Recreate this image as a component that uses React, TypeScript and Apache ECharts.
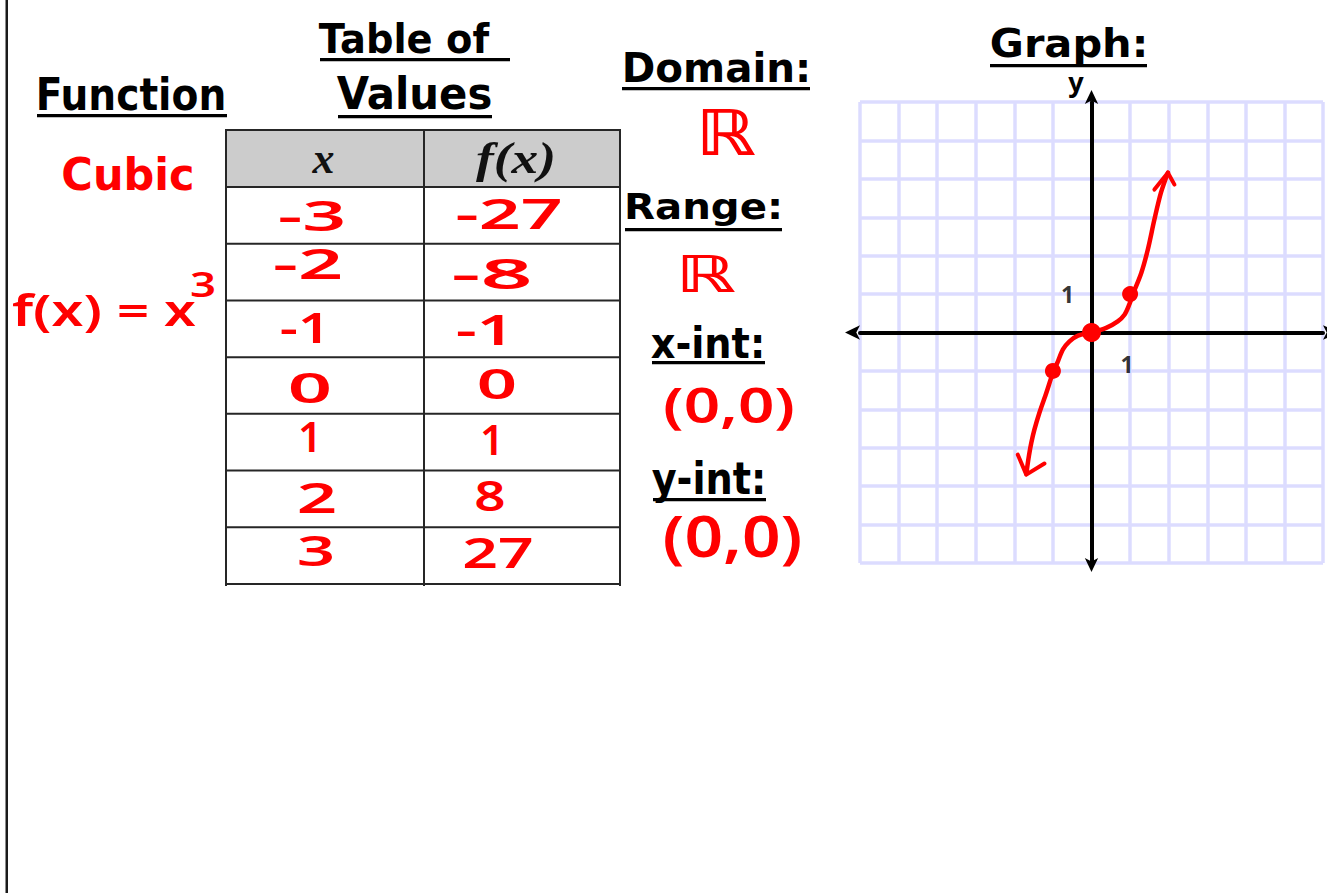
import React, { useEffect, useRef } from "react";
import * as echarts from "echarts";

// ---------------- data ----------------
const tableX = [-3, -2, -1, 0, 1, 2, 3];
const tableFx = [-27, -8, -1, 0, 1, 8, 27];
const plottedPoints = [
  [-1, -1],
  [0, 0],
  [1, 1],
];
// hand-drawn curve (graph units)
const curvePoints = [
  [-1.69, -3.68],
  [-1.62, -3.2],
  [-1.56, -2.87],
  [-1.48, -2.53],
  [-1.35, -2.09],
  [-1.17, -1.57],
  [-1.0, -1.05],
  [-0.87, -0.75],
  [-0.74, -0.44],
  [-0.57, -0.23],
  [-0.35, -0.08],
  [0, 0],
  [0.38, 0.12],
  [0.68, 0.29],
  [0.86, 0.47],
  [0.98, 0.73],
  [1.07, 0.99],
  [1.29, 1.55],
  [1.46, 2.16],
  [1.63, 2.94],
  [1.8, 3.64],
  [1.98, 4.16],
];
const upperArrow = [
  [1.63, 3.72],
  [1.98, 4.16],
  [2.15, 3.85],
];
const lowerArrow = [
  [-1.91, -3.18],
  [-1.69, -3.7],
  [-1.22, -3.41],
];
const unitMarks = [
  [-0.62, 1.0],
  [0.92, -0.83],
];
const axisRange = [-6, 6];
const xIntercept = [0, 0];
const yIntercept = [0, 0];

// ---------------- layout ----------------
const RED = "#ff0000";
const HEAD_FAMILY = "DejaVu Sans";
const HAND_FAMILY = "Noto Sans";
const SERIF_FAMILY = "Liberation Serif";
const HAND_WEIGHT = "600";
const CENTRAL: Record<string, number> = {
  "DejaVu Sans": 0.346,
  "Noto Sans": 0.388,
  "Liberation Serif": 0.3375,
};

let measureCtx: CanvasRenderingContext2D | null = null;
function measure(text: string, weight: string, size: number, family: string, style = "normal") {
  if (!measureCtx) measureCtx = document.createElement("canvas").getContext("2d");
  if (!measureCtx) return text.length * size * 0.6;
  measureCtx.font = `${style} ${weight} ${size}px "${family}"`;
  return measureCtx.measureText(text).width || 1;
}

type TextOpts = {
  text: string;
  x: number;
  baseline: number;
  size: number;
  family: string;
  weight?: string;
  fontStyle?: string;
  color: string;
  align: "left" | "center";
  width?: number; // target advance width
};
function textEl(o: TextOpts) {
  const weight = o.weight || "normal";
  const fontStyle = o.fontStyle || "normal";
  const w = measure(o.text, weight, o.size, o.family, fontStyle);
  const sx = o.width ? o.width / w : 1;
  return {
    type: "text",
    x: o.x,
    y: o.baseline - CENTRAL[o.family] * o.size,
    scaleX: sx,
    silent: true,
    style: {
      text: o.text,
      fontSize: o.size,
      fontFamily: o.family,
      fontWeight: weight,
      fontStyle,
      fill: o.color,
      align: o.align,
      verticalAlign: "middle",
    },
  };
}

const headingLayout = [
  { text: "Function", x0: 37, x1: 225, cap: 78, base: 110, ul: [37, 227, 114] },
  { text: "Table of", x0: 320, x1: 488, cap: 23, base: 53, ul: [320, 510, 58] },
  { text: "Values", x0: 338, x1: 491, cap: 77, base: 109, ul: [338, 492, 115] },
  { text: "Domain:", x0: 623, x1: 810, cap: 52, base: 82, ul: [622, 810, 87] },
  { text: "Graph:", x0: 991, x1: 1147, cap: 28, base: 57, ul: [990, 1147, 64] },
  { text: "Range:", x0: 625, x1: 782, cap: 193, base: 219, ul: [625, 782, 228] },
  { text: "x-int:", x0: 652, x1: 764, fs: 43, base: 358, ul: [652, 765, 361] },
  { text: "y-int:", x0: 653, x1: 765, fs: 45, base: 494, ul: [653, 766, 498] },
];

const TABLE_LEFT = 226;
const TABLE_MID = 424;
const TABLE_RIGHT = 620;
const TABLE_TOP = 130;
const HEADER_BOTTOM = 187;
const ROW_H = 56.71;

// [centre x, centre y of digits, ink width]
const xCellLayout = [
  [312, 216, 65],
  [308, 264, 67],
  [305, 328, 47],
  [310, 388, 41],
  [310, 437, 0],
  [317, 498, 37],
  [316, 551, 35],
];
const fCellLayout = [
  [509, 214, 104],
  [492, 274, 78],
  [485, 330, 55],
  [497, 384, 37],
  [492, 440, 0],
  [490, 496, 28],
  [498, 553, 68],
];
const CELL_FS = 42;

function buildGraphics() {
  const els: any[] = [];
  // page border on the left
  els.push({ type: "rect", silent: true, shape: { x: 5.5, y: 0, width: 2.5, height: 893 }, style: { fill: "#1a1a1a" } });

  // table
  els.push({
    type: "rect",
    silent: true,
    shape: { x: TABLE_LEFT, y: TABLE_TOP, width: TABLE_RIGHT - TABLE_LEFT, height: HEADER_BOTTOM - TABLE_TOP },
    style: { fill: "#cccccc" },
  });
  const ys = [TABLE_TOP, HEADER_BOTTOM];
  for (let i = 1; i <= tableX.length; i++) ys.push(HEADER_BOTTOM + i * ROW_H);
  ys.forEach((y) =>
    els.push({
      type: "line",
      silent: true,
      shape: { x1: TABLE_LEFT - 1, y1: y, x2: TABLE_RIGHT + 1, y2: y },
      style: { stroke: "#262626", lineWidth: 2 },
    })
  );
  const bottom = ys[ys.length - 1];
  [TABLE_LEFT, TABLE_MID, TABLE_RIGHT].forEach((x) =>
    els.push({
      type: "line",
      silent: true,
      shape: { x1: x, y1: TABLE_TOP, x2: x, y2: bottom + 2 },
      style: { stroke: "#262626", lineWidth: 2 },
    })
  );
  els.push(
    textEl({ text: "x", x: 323.5, baseline: 173, size: 44, family: SERIF_FAMILY, weight: "bold", fontStyle: "italic", color: "#111", align: "center" })
  );
  els.push(
    textEl({ text: "f(x)", x: 516, baseline: 173, size: 44, family: SERIF_FAMILY, weight: "bold", fontStyle: "italic", color: "#111", align: "center", width: 80 })
  );

  const cellText = (v: number, lay: number[]) => {
    const t = String(v);
    const w = lay[2] > 0 ? lay[2] + 0.08 * CELL_FS : undefined;
    return textEl({
      text: t,
      x: lay[0],
      baseline: lay[1] + 0.357 * CELL_FS,
      size: CELL_FS,
      family: HAND_FAMILY,
      weight: HAND_WEIGHT,
      color: RED,
      align: "center",
      width: w,
    });
  };
  tableX.forEach((v, i) => els.push(cellText(v, xCellLayout[i])));
  tableFx.forEach((v, i) => els.push(cellText(v, fCellLayout[i])));

  // headings
  headingLayout.forEach((h: any) => {
    const fs = h.fs ?? (h.base - h.cap) / 0.729;
    els.push(
      textEl({
        text: h.text,
        x: h.x0 - 0.03 * fs,
        baseline: h.base,
        size: fs,
        family: HEAD_FAMILY,
        weight: "bold",
        color: "#000",
        align: "left",
        width: h.x1 - h.x0 + 0.06 * fs,
      })
    );
    els.push({
      type: "rect",
      silent: true,
      shape: { x: h.ul[0], y: h.ul[2], width: h.ul[1] - h.ul[0], height: 3.2 },
      style: { fill: "#000" },
    });
  });

  // red annotations
  els.push(textEl({ text: "Cubic", x: 62.7 - 0.03 * 45, baseline: 190, size: 45, family: HEAD_FAMILY, weight: "bold", color: RED, align: "left", width: 130.6 + 0.06 * 45 }));
  els.push(textEl({ text: "f(x) = x", x: 12, baseline: 326, size: 44, family: HAND_FAMILY, weight: HAND_WEIGHT, color: RED, align: "left", width: 184 }));
  els.push(textEl({ text: "3", x: 190, baseline: 297, size: 34, family: HAND_FAMILY, weight: HAND_WEIGHT, color: RED, align: "left", width: 26 }));
  els.push(textEl({ text: "ℝ", x: 725.5, baseline: 155, size: 63, family: HEAD_FAMILY, weight: "bold", color: RED, align: "center", width: 60 }));
  els.push(textEl({ text: "ℝ", x: 705.5, baseline: 292, size: 51, family: HEAD_FAMILY, weight: "bold", color: RED, align: "center", width: 60 }));
  els.push(textEl({ text: `(${xIntercept[0]},${xIntercept[1]})`, x: 729, baseline: 423, size: 48, family: HAND_FAMILY, weight: HAND_WEIGHT, color: RED, align: "center", width: 132 }));
  els.push(textEl({ text: `(${yIntercept[0]},${yIntercept[1]})`, x: 732.5, baseline: 557, size: 58, family: HAND_FAMILY, weight: HAND_WEIGHT, color: RED, align: "center", width: 140 }));

  // axis label on the graph
  els.push(textEl({ text: "y", x: 1076, baseline: 92, size: 27, family: HAND_FAMILY, weight: "bold", color: "#000", align: "center" }));
  return els;
}

function buildOption() {
  const axisCommon = {
    type: "value",
    min: axisRange[0],
    max: axisRange[1],
    interval: 1,
    axisTick: { show: false },
    axisLabel: { show: false },
    splitLine: { show: true, lineStyle: { color: "#dcdcff", width: 3.5 } },
  };
  return {
    animation: false,
    backgroundColor: "#ffffff",
    grid: { left: 860, top: 102, width: 463, height: 461, containLabel: false },
    xAxis: {
      ...axisCommon,
      axisLine: {
        show: true,
        onZero: true,
        symbol: ["arrow", "arrow"],
        symbolSize: [11, 15],
        symbolOffset: [-15, 15],
        lineStyle: { color: "#000", width: 4 },
      },
    },
    yAxis: {
      ...axisCommon,
      axisLine: {
        show: true,
        onZero: true,
        symbol: ["arrow", "arrow"],
        symbolSize: [10, 14],
        symbolOffset: [-9, 12],
        lineStyle: { color: "#000", width: 4 },
      },
    },
    series: [
      {
        type: "line",
        data: curvePoints,
        smooth: 0.3,
        showSymbol: false,
        symbol: "none",
        clip: false,
        silent: true,
        z: 3,
        lineStyle: { color: RED, width: 4.5, cap: "round", join: "round" },
      },
      {
        type: "line",
        data: upperArrow,
        showSymbol: false,
        symbol: "none",
        clip: false,
        silent: true,
        z: 3,
        lineStyle: { color: RED, width: 4, cap: "round", join: "round" },
      },
      {
        type: "line",
        data: lowerArrow,
        showSymbol: false,
        symbol: "none",
        clip: false,
        silent: true,
        z: 3,
        lineStyle: { color: RED, width: 4, cap: "round", join: "round" },
      },
      {
        type: "scatter",
        data: plottedPoints,
        symbolSize: (v: number[]) => (v[0] === 0 && v[1] === 0 ? 19 : 16),
        itemStyle: { color: RED, opacity: 1 },
        silent: true,
        z: 4,
      },
      {
        type: "scatter",
        data: unitMarks,
        symbolSize: 1,
        itemStyle: { color: "rgba(0,0,0,0)" },
        silent: true,
        z: 4,
        label: {
          show: true,
          position: "inside",
          formatter: "1",
          fontSize: 23,
          fontWeight: "bold",
          color: "#000",
          fontFamily: HAND_FAMILY,
        },
      },
    ],
    graphic: { elements: buildGraphics() },
  };
}

export default function App() {
  const ref = useRef<HTMLDivElement>(null);
  useEffect(() => {
    if (!ref.current) return;
    const chart = echarts.init(ref.current, null, { renderer: "svg" });
    chart.setOption(buildOption() as any);
    return () => chart.dispose();
  }, []);
  return (
    <div
      ref={ref}
      style={{ position: "fixed", left: 0, top: 0, width: 1327, height: 893, background: "#fff" }}
    />
  );
}
